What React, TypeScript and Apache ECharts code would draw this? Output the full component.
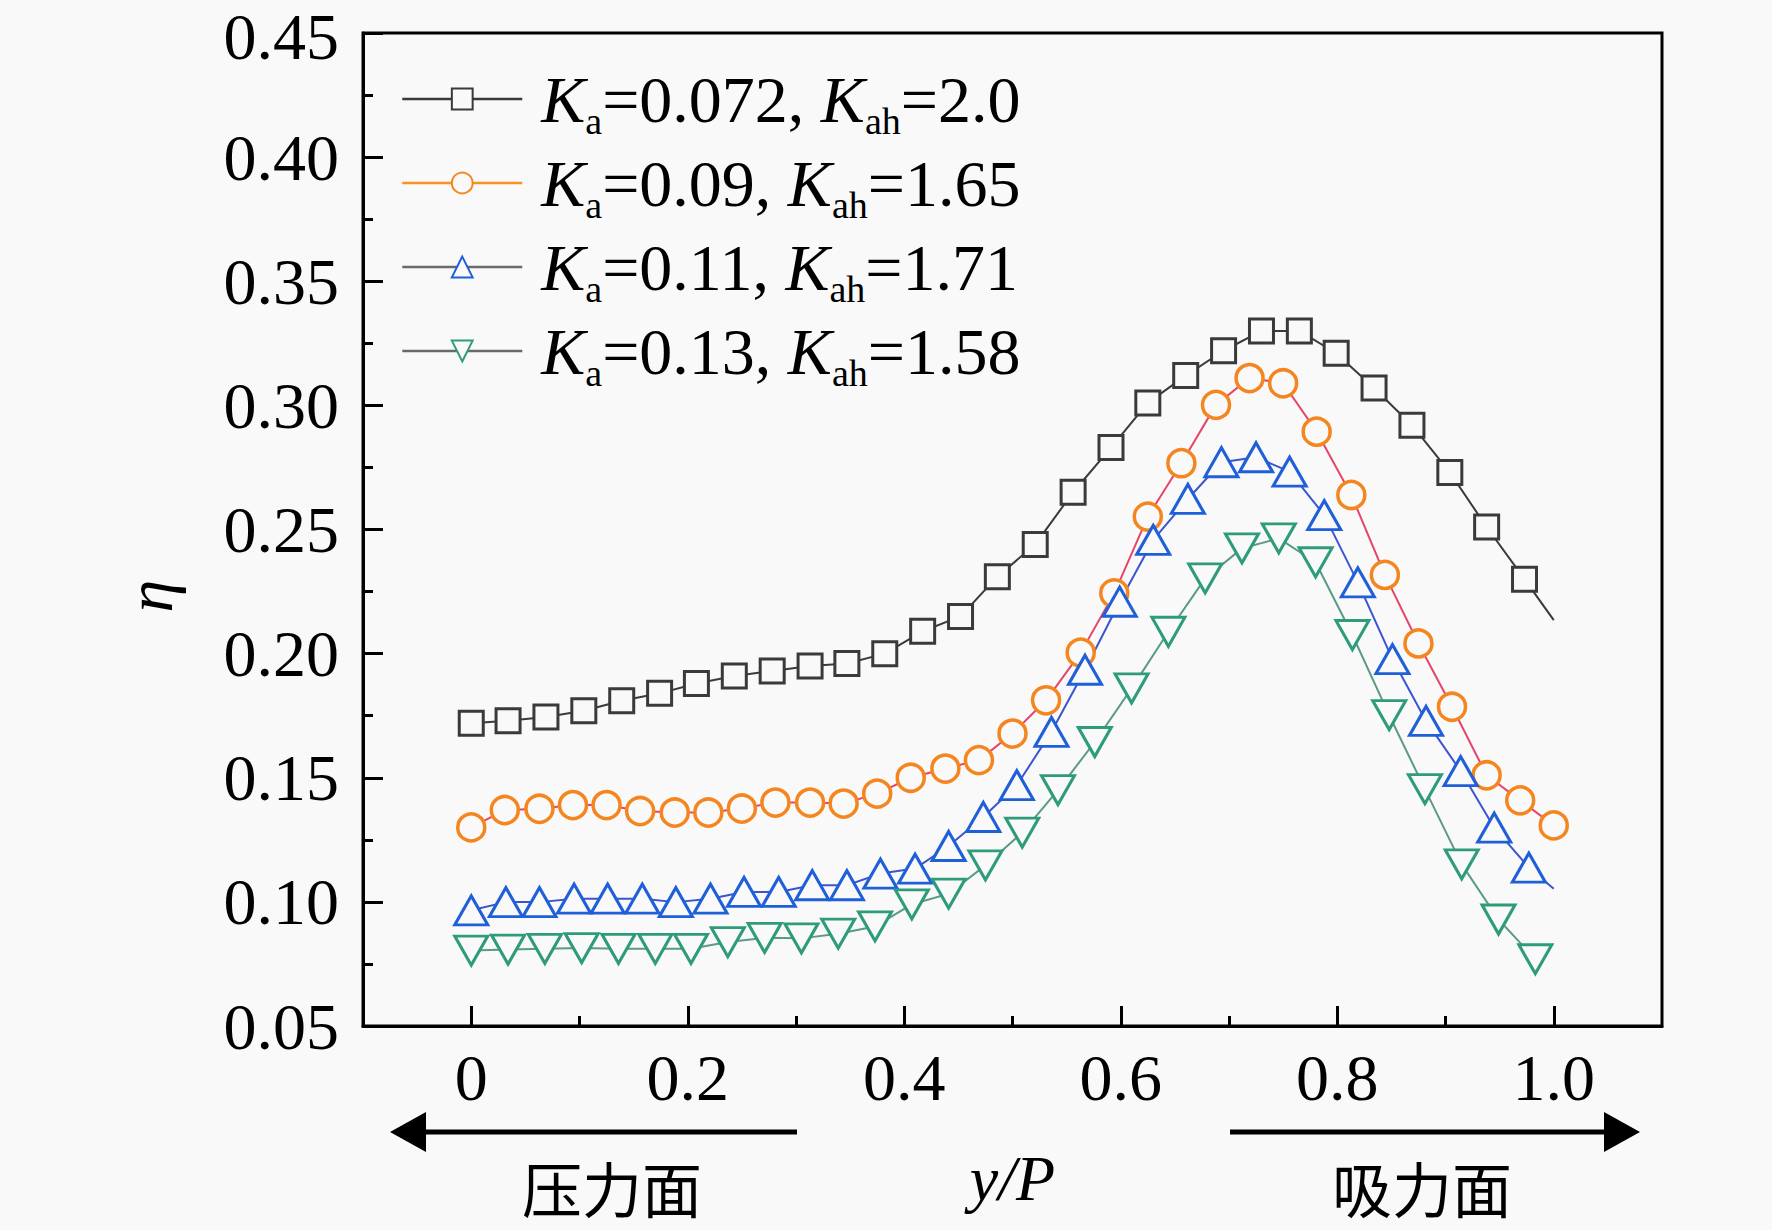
import React, { useEffect, useRef } from 'react';
import * as echarts from 'echarts';

const serif = '"Liberation Serif", "Times New Roman", serif';
const cjk = '"Noto Sans CJK SC", sans-serif';

// K_a=0.072, K_ah=2.0 (squares)
const xBlack = [0, 0.034, 0.069, 0.104, 0.139, 0.174, 0.208, 0.243, 0.278, 0.313, 0.347, 0.382, 0.417, 0.452, 0.486,
  0.521, 0.556, 0.591, 0.625, 0.66, 0.695, 0.73, 0.765, 0.799, 0.834, 0.869, 0.904, 0.938, 0.973, 1.0];
const yBlack = [0.172, 0.173, 0.1745, 0.177, 0.181, 0.184, 0.188, 0.191, 0.193, 0.195, 0.196, 0.2, 0.209, 0.215, 0.231,
  0.244, 0.265, 0.283, 0.301, 0.312, 0.322, 0.33, 0.33, 0.321, 0.307, 0.292, 0.273, 0.251, 0.23, 0.2135];

// K_a=0.09, K_ah=1.65 (circles)
const xOrange = [0, 0.031, 0.063, 0.094, 0.125, 0.156, 0.188, 0.219, 0.25, 0.281, 0.313, 0.344, 0.375, 0.406, 0.438,
  0.469, 0.5, 0.531, 0.563, 0.594, 0.625, 0.656, 0.688, 0.719, 0.75, 0.781, 0.813, 0.844, 0.875, 0.906, 0.938, 0.969, 1.0];
const yOrange = [0.13, 0.137, 0.1375, 0.139, 0.139, 0.1366, 0.136, 0.136, 0.1376, 0.14, 0.14, 0.1396, 0.1436, 0.15, 0.1537,
  0.1571, 0.1678, 0.1812, 0.2004, 0.2243, 0.2552, 0.2767, 0.3002, 0.311, 0.3089, 0.2894, 0.2639, 0.2317, 0.2041, 0.1786,
  0.151, 0.1409, 0.1308];

// K_a=0.11, K_ah=1.71 (triangles)
const xBlue = [0, 0.032, 0.063, 0.095, 0.126, 0.158, 0.189, 0.221, 0.252, 0.284, 0.315, 0.347, 0.378, 0.41, 0.441,
  0.473, 0.504, 0.536, 0.567, 0.599, 0.63, 0.662, 0.693, 0.725, 0.756, 0.788, 0.819, 0.851, 0.882, 0.914, 0.945, 0.977, 1.0];
const yBlue = [0.0966, 0.0999, 0.0999, 0.1013, 0.1013, 0.1013, 0.0999, 0.1013, 0.104, 0.104, 0.1067, 0.1067, 0.1114,
  0.1134, 0.1225, 0.1342, 0.147, 0.1685, 0.1935, 0.2209, 0.2458, 0.2623, 0.2771, 0.2791, 0.2733, 0.2558, 0.2287, 0.1978,
  0.1729, 0.1527, 0.1299, 0.1138, 0.1053];

// K_a=0.13, K_ah=1.58 (inverted triangles)
const xGreen = [0, 0.034, 0.068, 0.102, 0.136, 0.17, 0.203, 0.237, 0.271, 0.305, 0.339, 0.373, 0.407, 0.441, 0.475,
  0.509, 0.542, 0.576, 0.61, 0.644, 0.678, 0.712, 0.746, 0.78, 0.814, 0.848, 0.881, 0.915, 0.949, 0.983];
const yGreen = [0.0804, 0.0808, 0.0811, 0.0814, 0.0811, 0.0811, 0.0811, 0.0838, 0.0855, 0.0853, 0.0872, 0.0901, 0.099,
  0.1033, 0.1147, 0.1279, 0.145, 0.1644, 0.186, 0.2088, 0.2303, 0.2424, 0.2464, 0.2368, 0.2075, 0.1752, 0.1454, 0.1151,
  0.0929, 0.0769];

const xMajor = [0, 0.2, 0.4, 0.6, 0.8, 1.0];
const xMinor = [0.1, 0.3, 0.5, 0.7, 0.9];

const names = ['Ka=0.072, Kah=2.0', 'Ka=0.09, Kah=1.65', 'Ka=0.11, Kah=1.71', 'Ka=0.13, Kah=1.58'];
const richNames = [
  '{g|}{i|K}{s|a}{n|=0.072, }{i|K}{s|ah}{n|=2.0}',
  '{g|}{i|K}{s|a}{n|=0.09, }{i|K}{s|ah}{n|=1.65}',
  '{g|}{i|K}{s|a}{n|=0.11, }{i|K}{s|ah}{n|=1.71}',
  '{g|}{i|K}{s|a}{n|=0.13, }{i|K}{s|ah}{n|=1.58}',
];
const legendLineColors = ['#3a3a3a', '#f7931e', '#6a6a6a', '#6a6a6a'];

const bg = '#f9f9f9';

function pairs(xs: number[], ys: number[], hideLast: boolean) {
  return xs.map((x, i) => {
    if (hideLast && i === xs.length - 1) return { value: [x, ys[i]], symbol: 'none' };
    return [x, ys[i]];
  });
}

const App: React.FC = () => {
  const chartRef = useRef<HTMLDivElement>(null);

  useEffect(() => {
    document.body.style.margin = '0';
    if (!chartRef.current) return;
    const chart = echarts.init(chartRef.current, undefined, { renderer: 'svg' });

    const tickStyle = { color: '#000', width: 3 };
    const option: any = {
      animation: false,
      backgroundColor: bg,
      grid: {
        left: 363, right: 110, top: 33, bottom: 204,
        outerBoundsMode: 'none',
        show: true, borderColor: '#000', borderWidth: 3,
      },
      legend: {
        orient: 'vertical',
        left: 401,
        top: 58,
        padding: 0,
        itemWidth: 120,
        itemHeight: 26,
        itemGap: 2,
        selectedMode: false,
        data: names.map((n, i) => ({ name: n, lineStyle: { color: legendLineColors[i], width: 2.5 } })),
        formatter: (name: string) => richNames[names.indexOf(name)],
        textStyle: {
          color: '#000',
          rich: {
            g: { width: 14 },
            i: { fontFamily: serif, fontStyle: 'italic', fontSize: 66, lineHeight: 72, color: '#000' },
            n: { fontFamily: serif, fontSize: 66, lineHeight: 72, color: '#000' },
            s: { fontFamily: serif, fontSize: 38, lineHeight: 20, padding: [44, 0, 0, 0], color: '#000' },
          },
        },
      },
      xAxis: [
        {
          type: 'value', min: -0.1, max: 1.1,
          axisLine: { show: true, onZero: false, lineStyle: tickStyle },
          axisTick: { show: true, inside: true, length: 20, lineStyle: tickStyle, customValues: xMajor },
          axisLabel: {
            customValues: xMajor,
            formatter: (v: number) => (v === 0 ? '0' : v.toFixed(1)),
            fontSize: 66, fontFamily: serif, color: '#000', margin: 18,
          },
          splitLine: { show: false },
          name: 'y/P', nameLocation: 'middle', nameGap: 124,
          nameTextStyle: { fontFamily: serif, fontStyle: 'italic', fontSize: 64, color: '#000', lineHeight: 56 },
        },
        {
          type: 'value', min: -0.1, max: 1.1, position: 'bottom',
          axisLine: { show: false, onZero: false },
          axisTick: { show: true, inside: true, length: 10, lineStyle: tickStyle, customValues: xMinor },
          axisLabel: { show: false },
          splitLine: { show: false },
        },
      ],
      yAxis: {
        type: 'value', min: 0.05, max: 0.45, interval: 0.05,
        axisLine: { show: true, onZero: false, lineStyle: tickStyle },
        axisTick: { show: true, inside: true, length: 20, lineStyle: tickStyle },
        minorTick: { show: true, splitNumber: 2, length: 10, lineStyle: tickStyle },
        axisLabel: {
          formatter: (v: number) => (v > 0.449 ? '{t|' + v.toFixed(2) + '}' : v.toFixed(2)),
          fontSize: 66, fontFamily: serif, color: '#000', margin: 24, lineHeight: 48,
          rich: { t: { fontSize: 66, fontFamily: serif, color: '#000', lineHeight: 48, padding: [7, 0, 0, 0] } },
        },
        splitLine: { show: false },
        minorSplitLine: { show: false },
      },
      series: [
        {
          name: names[0], type: 'line', data: pairs(xBlack, yBlack, true),
          symbol: 'rect', symbolSize: 24,
          itemStyle: { color: bg, borderColor: '#3a3a3a', borderWidth: 3 },
          lineStyle: { color: '#3a3a3a', width: 2 },
        },
        {
          name: names[1], type: 'line', data: pairs(xOrange, yOrange, false),
          symbol: 'circle', symbolSize: 27,
          itemStyle: { color: bg, borderColor: '#f5861f', borderWidth: 3.5 },
          lineStyle: { color: '#e6456a', width: 2 },
        },
        {
          name: names[2], type: 'line', data: pairs(xBlue, yBlue, true),
          symbol: 'triangle', symbolSize: [33, 29],
          itemStyle: { color: bg, borderColor: '#1f5fd8', borderWidth: 3 },
          lineStyle: { color: '#3b55d0', width: 2 },
        },
        {
          name: names[3], type: 'line', data: pairs(xGreen, yGreen, false),
          symbol: 'triangle', symbolRotate: 180, symbolSize: [33, 29],
          itemStyle: { color: bg, borderColor: '#2e9c7c', borderWidth: 3 },
          lineStyle: { color: '#5b9a83', width: 2 },
        },
      ].map((s) => ({ ...s, silent: true, emphasis: { disabled: true } })),
      graphic: [
        {
          type: 'text', x: 149, y: 596, rotation: Math.PI / 2,
          style: {
            text: 'η', font: `italic 66px ${serif}`, fill: '#000', align: 'center', verticalAlign: 'middle',
          },
        },
        // pressure side arrow
        { type: 'line', shape: { x1: 420, y1: 1132, x2: 797, y2: 1132 }, style: { stroke: '#000', lineWidth: 5 } },
        { type: 'polygon', shape: { points: [[390, 1132], [426, 1112], [426, 1152]] }, style: { fill: '#000' } },
        // suction side arrow
        { type: 'line', shape: { x1: 1230, y1: 1132, x2: 1610, y2: 1132 }, style: { stroke: '#000', lineWidth: 5 } },
        { type: 'polygon', shape: { points: [[1640, 1132], [1604, 1112], [1604, 1152]] }, style: { fill: '#000' } },
        {
          type: 'text', x: 612, y: 1186,
          style: {
            text: '压力面', font: `60px ${cjk}`, lineHeight: 60, fill: '#000', align: 'center', verticalAlign: 'middle',
          },
        },
        {
          type: 'text', x: 1422, y: 1186,
          style: {
            text: '吸力面', font: `60px ${cjk}`, lineHeight: 60, fill: '#000', align: 'center', verticalAlign: 'middle',
          },
        },
      ],
    };

    chart.setOption(option);
    return () => {
      chart.dispose();
    };
  }, []);

  return <div ref={chartRef} style={{ width: '1772px', height: '1230px' }}></div>;
};

export default App;
